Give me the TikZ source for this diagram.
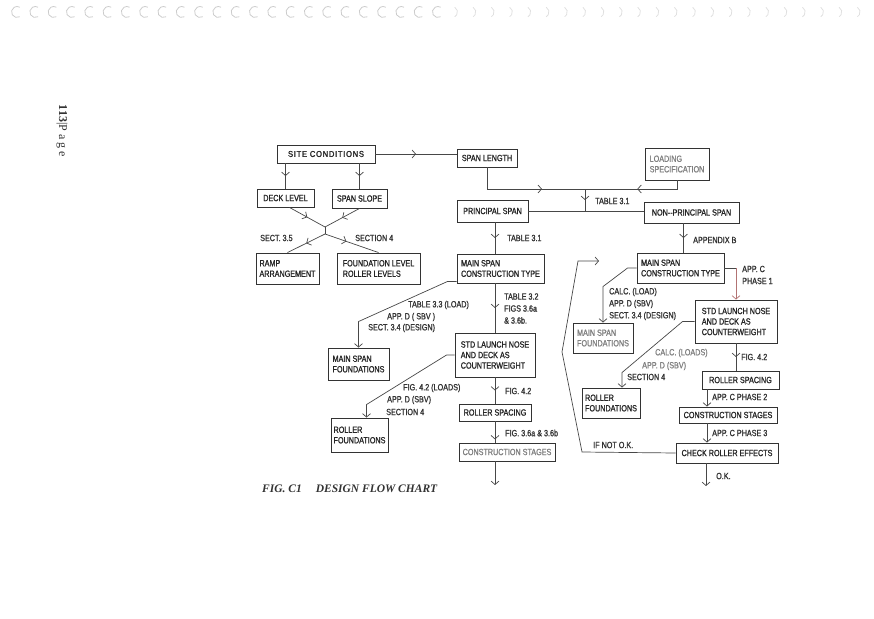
\documentclass[tikz,border=0pt]{standalone}
\usepackage{fontspec}
\setmainfont{Liberation Serif}
\newfontfamily\cadfont{Liberation Sans}[FakeStretch=0.8, FakeBold=1.2]
\newfontfamily\cadwide{Liberation Sans}[FakeStretch=0.9, FakeBold=1.6, LetterSpace=8]
\usetikzlibrary{arrows.meta, decorations.markings}

\tikzset{
  >={Straight Barb[length=3.5pt,width=8pt]},
  blk/.style={draw=black!80, line width=0.9pt, align=left, inner sep=2pt,
    font=\cadfont\fontsize{9}{10.5}\selectfont, text=black!85},
  lbl/.style={anchor=west, inner sep=0pt, align=left,
    font=\cadfont\fontsize{9}{12}\selectfont, text=black!80},
  faded/.style={text=black!50},
  conn/.style={draw=black!72, line width=0.7pt},
  midarr/.style={postaction={decorate, decoration={markings,
    mark=at position #1 with {\arrow{>}}}}},
  midarr/.default=0.5,
  ring/.style={draw=black!#1, line width=0.8pt},
}

\begin{document}
\begin{tikzpicture}[x=1pt,y=-1pt]
\useasboundingbox (0,0) rectangle (874,618);

% binding rings
\foreach \rx in {17,35.3,...,440} \draw[ring=20] (\rx,12) ++(60:5.5) arc[start angle=60, end angle=300, radius=5.5];
\foreach \rx in {452,470.3,...,860} \draw[ring=12] (\rx,12) ++(-60:5.5) arc[start angle=-60, end angle=60, radius=5.5];

\node[rotate=-90, font=\fontsize{12}{13}\selectfont, text=black!80] (page) at (62,131) {\textbf{113}|P a g e};

% left part
\node[blk, minimum width=98, minimum height=18, font=\cadwide\fontsize{8.5}{10}\selectfont] (site) at (326,154) {SITE CONDITIONS};
\node[blk, minimum width=60, minimum height=18] (spanlen) at (487,158) {SPAN LENGTH};
\node[blk, faded, minimum width=64, minimum height=32] (loading) at (677,164) {LOADING\\SPECIFICATION};
\node[blk, minimum width=57, minimum height=18] (deck) at (285.5,198) {DECK LEVEL};
\node[blk, minimum width=55, minimum height=19] (slope) at (359.5,198.5) {SPAN SLOPE};
\node[blk, minimum width=71, minimum height=22] (principal) at (492.5,211) {PRINCIPAL SPAN};
\node[blk, minimum width=95, minimum height=21] (nonp) at (691.5,212.5) {NON--PRINCIPAL SPAN};
\node[blk, minimum width=63, minimum height=31] (ramp) at (287.5,268.5) {RAMP\\ARRANGEMENT};
\node[blk, minimum width=83, minimum height=31] (found) at (378.5,268.5) {FOUNDATION LEVEL\\ROLLER LEVELS};
\node[blk, minimum width=87, minimum height=29] (mainL) at (500.5,268.5) {MAIN SPAN\\CONSTRUCTION TYPE};
\node[blk, minimum width=61, minimum height=32] (msfL) at (358.5,364) {MAIN SPAN\\FOUNDATIONS};
\node[blk, minimum width=80, minimum height=44] (stdL) at (495,355) {STD LAUNCH NOSE\\AND DECK AS\\COUNTERWEIGHT};
\node[blk, minimum width=57, minimum height=34] (rfL) at (359.5,435) {ROLLER\\FOUNDATIONS};
\node[blk, minimum width=72, minimum height=17] (rsL) at (495,412.5) {ROLLER SPACING};
\node[blk, faded, minimum width=96, minimum height=18] (csL) at (507,452) {CONSTRUCTION STAGES};

% right part
\node[blk, minimum width=87, minimum height=30] (mainR) at (680.5,268) {MAIN SPAN\\CONSTRUCTION TYPE};
\node[blk, faded, minimum width=60, minimum height=30] (msfR) at (603,338) {MAIN SPAN\\FOUNDATIONS};
\node[blk, minimum width=82, minimum height=43] (stdR) at (736,321.5) {STD LAUNCH NOSE\\AND DECK AS\\COUNTERWEIGHT};
\node[blk, minimum width=58, minimum height=30] (rfR) at (611,403) {ROLLER\\FOUNDATIONS};
\node[blk, minimum width=77, minimum height=18] (rsR) at (740.5,380) {ROLLER SPACING};
\node[blk, minimum width=98, minimum height=16] (csR) at (728,415) {CONSTRUCTION STAGES};
\node[blk, minimum width=102, minimum height=20] (crR) at (727,453) {CHECK ROLLER EFFECTS};

\coordinate (jx) at (325,227);
\coordinate (jy) at (325,234);
\coordinate (jt) at (585,189);
\coordinate (colR) at (707,0);
\coordinate (endL) at (495,485);
\coordinate (endR) at (706,486);
\coordinate (lpA) at (582,452);
\coordinate (lpB) at (562,352);
\coordinate (lpC) at (578,261);
\coordinate (lpD) at (599,261);

\draw[conn, midarr] (site.east) -- (site.east -| spanlen.west);
\draw[conn, midarr] (deck.north |- site.south) -- (deck.north);
\draw[conn, midarr] (slope.north |- site.south) -- (slope.north);
\draw[conn, midarr] ([xshift=4pt]deck.south) -- (jx);
\draw[conn, midarr] (slope.south) -- (jx);
\draw[conn] (jx) -- (jy);
\draw[conn, midarr] (jy) -- (ramp.north);
\draw[conn, midarr=0.4] (jy) -- (found.north);
\node[lbl] (sect35) at (260,238) {SECT. 3.5};
\node[lbl] (sect4a) at (355,238) {SECTION 4};

\draw[conn, midarr=0.64] (spanlen.south) |- (jt);
\draw[conn, midarr=0.48] (loading.south) |- (jt);
\draw[conn, midarr] (jt) -- (jt |- principal.east);
\draw[conn] (principal.east) -- (principal.east -| nonp.west);
\node[lbl] (tab31b) at (595,201) {TABLE 3.1};

\draw[conn, midarr] (stdL.north |- principal.south) -- (stdL.north |- mainL.north);
\node[lbl] (tab31a) at (507,238) {TABLE 3.1};
\draw[conn, midarr] (stdL.north |- mainL.south) -- (stdL.north);
\node[lbl] (tab32) at (504,308.5) {TABLE 3.2\\FIGS 3.6a\\\& 3.6b.};
\draw[conn, midarr] (stdL.south) -- (stdL.south |- rsL.north);
\node[lbl] (fig42a) at (505,391) {FIG. 4.2};
\draw[conn, midarr=0.85] (rsL.south) -- (rsL.south |- csL.north);
\node[lbl] (fig36) at (505,433) {FIG. 3.6a \& 3.6b};
\draw[conn, ->] (csL.south -| rsL.south) -- (endL);

\draw[conn, ->] ([yshift=2pt]mainL.south west) -- ++(-9,0) -- ([yshift=26pt]msfL.north) -- (msfL.north);
\node[lbl] (tab33) at (408,305) {TABLE 3.3 (LOAD)};
\node[lbl] (appd1) at (387,317) {APP. D ( SBV )};
\node[lbl] (sect34a) at (368,328) {SECT. 3.4 (DESIGN)};
\draw[conn, ->] (stdL.west) -- ++(-8,0) -- ([xshift=7pt,yshift=13pt]rfL.north) -- ([xshift=7pt]rfL.north);
\node[lbl] (fig42l) at (403,388) {FIG. 4.2 (LOADS)};
\node[lbl] (appd2) at (387,400) {APP. D (SBV)};
\node[lbl] (sect4b) at (386,412) {SECTION 4};

\node[text=black!80, anchor=west, inner sep=0pt, font=\fontsize{11.5}{12}\bfseries\itshape] (caption) at (262,489) {FIG. C1\hspace{14pt}DESIGN FLOW CHART};

% right column
\draw[conn, midarr] ([xshift=3pt]mainR.north |- nonp.south) -- ([xshift=3pt]mainR.north);
\node[lbl] (appb) at (693,240) {APPENDIX B};
\coordinate (cornR) at (mainR.east -| stdR.north);
\draw[conn] (mainR.east) -- (cornR);
\draw[conn, draw=red!45!black!55, ->] (cornR) -- (stdR.north);
\node[lbl] (appc1) at (742,275) {APP. C\\PHASE 1};
\draw[conn, ->] (mainR.west) -- ++(-9,0) -- ([yshift=36pt]msfR.north) -- (msfR.north);
\node[lbl] (calc1) at (609,304) {CALC. (LOAD)\\APP. D (SBV)\\SECT. 3.4 (DESIGN)};
\draw[conn, ->] (stdR.west) -- ++(-12,0) -- ([xshift=11pt,yshift=15pt]rfR.north) -- ([xshift=11pt]rfR.north);
\node[lbl, faded] (calc2) at (655,353) {CALC. (LOADS)};
\node[lbl, faded] (appd3) at (642,366) {APP. D (SBV)};
\node[lbl] (sect4c) at (627,377) {SECTION 4};
\draw[conn, midarr] (stdR.south) -- (stdR.south |- rsR.north);
\node[lbl] (fig42b) at (741,357) {FIG. 4.2};
\draw[conn, ->] (rsR.south -| colR) -- (csR.north -| colR);
\node[lbl] (appc2) at (712,397) {APP. C PHASE 2};
\draw[conn, ->] (csR.south -| colR) -- (crR.north -| colR);
\node[lbl] (appc3) at (712,433) {APP. C PHASE 3};
\draw[conn, ->] (crR.south -| endR) -- (endR);
\node[lbl] (ok) at (716,476) {O.K.};
\draw[conn, ->] (crR.west) -- (lpA) -- (lpB) -- (lpC) -- (lpD);
\node[lbl] (notok) at (593,445) {IF NOT O.K.};
\end{tikzpicture}
\end{document}
